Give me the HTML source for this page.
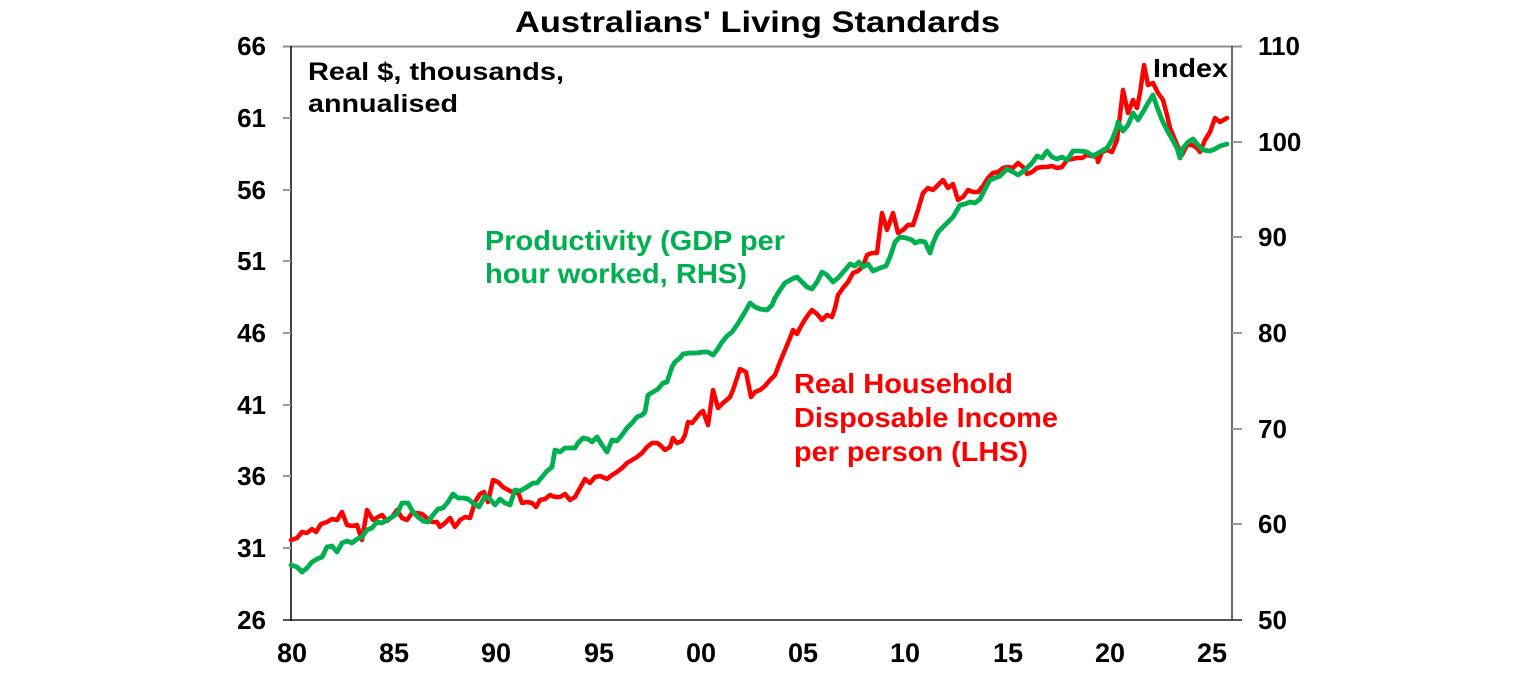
<!DOCTYPE html>
<html><head><meta charset="utf-8"><style>
html,body{margin:0;padding:0;background:#fff;}
svg{display:block;}
text{font-family:"Liberation Sans",Arial,sans-serif;font-weight:bold;}
</style></head><body>
<svg width="1536" height="680" viewBox="0 0 1536 680" xmlns="http://www.w3.org/2000/svg">
<rect width="1536" height="680" fill="#fff"/>
<text x="515" y="32" font-size="30" textLength="485" lengthAdjust="spacingAndGlyphs" fill="#000">Australians' Living Standards</text>

<!-- frame -->
<line x1="283" y1="46.5" x2="1242" y2="46.5" stroke="#8c8c8c" stroke-width="2"/>
<line x1="283" y1="620" x2="1242" y2="620" stroke="#555" stroke-width="2"/>
<line x1="291" y1="46" x2="291" y2="621" stroke="#111" stroke-width="1.6"/>
<line x1="1232" y1="46" x2="1232" y2="621" stroke="#444" stroke-width="1.6"/>
<g stroke="#999" stroke-width="2">
<line x1="283" y1="118" x2="291" y2="118"/><line x1="283" y1="190" x2="291" y2="190"/>
<line x1="283" y1="261" x2="291" y2="261"/><line x1="283" y1="333" x2="291" y2="333"/>
<line x1="283" y1="405" x2="291" y2="405"/><line x1="283" y1="476" x2="291" y2="476"/>
<line x1="283" y1="548" x2="291" y2="548"/>
<line x1="1232" y1="142" x2="1242" y2="142"/><line x1="1232" y1="237" x2="1242" y2="237"/>
<line x1="1232" y1="333" x2="1242" y2="333"/><line x1="1232" y1="429" x2="1242" y2="429"/>
<line x1="1232" y1="524" x2="1242" y2="524"/>
</g>

<!-- left labels -->
<g font-size="26" fill="#000" text-anchor="end">
<text x="266" y="55">66</text><text x="266" y="127">61</text><text x="266" y="199">56</text>
<text x="266" y="270">51</text><text x="266" y="342">46</text><text x="266" y="414">41</text>
<text x="266" y="485">36</text><text x="266" y="557">31</text><text x="266" y="629">26</text>
</g>
<!-- right labels -->
<g font-size="26" fill="#000">
<text x="1258" y="55">110</text><text x="1258" y="151">100</text><text x="1258" y="246">90</text>
<text x="1258" y="342">80</text><text x="1258" y="438">70</text><text x="1258" y="533">60</text>
<text x="1258" y="629">50</text>
</g>
<!-- x labels -->
<g font-size="27" fill="#000" text-anchor="middle">
<text x="292" y="662">80</text><text x="394" y="662">85</text><text x="496" y="662">90</text>
<text x="599" y="662">95</text><text x="701" y="662">00</text><text x="803" y="662">05</text>
<text x="905" y="662">10</text><text x="1008" y="662">15</text><text x="1110" y="662">20</text>
<text x="1212" y="662">25</text>
</g>

<text x="308" y="80" font-size="25" fill="#000" textLength="256" lengthAdjust="spacingAndGlyphs">Real $, thousands,</text>
<text x="308" y="112" font-size="25" fill="#000" textLength="150" lengthAdjust="spacingAndGlyphs">annualised</text>
<text x="1153" y="77" font-size="26" fill="#000" textLength="75" lengthAdjust="spacingAndGlyphs">Index</text>

<!-- red series -->
<polyline fill="none" stroke="#FF0000" stroke-width="4.5" stroke-linejoin="round" stroke-linecap="round" points="291,540 297,538 302,532 307,533 312,529 316,532 321,524 327,522 332,519 337,520 342,512 347,525 352,526 357,525 362,540 367,510 373,520 378,517 382,515 387,521 392,517 397,510 402,518 407,520 412,513 417,513 422,514 427,518 432,522 437,522 440,527 445,523 450,518 455,527 460,520 465,517 470,518 475,502 480,494 484,492 488,502 493,480 498,482 503,487 510,491 515,493 518,492 522,503 527,502 532,503 536,507 540,500 545,499 550,495 555,497 560,497 565,494 570,500 575,497 580,488 585,479 590,483 595,477 600,476 607,479 612,475 617,472 622,468 627,463 632,460 637,457 642,453 647,447 652,443 657,443 660,445 665,450 670,447 673,438 677,443 682,441 685,435 688,422 692,423 697,417 700,413 703,411 708,425 713,390 718,408 723,403 730,397 733,390 740,369 746,372 751,397 755,392 760,390 765,386 770,380 775,375 780,362 785,350 790,338 793,330 797,334 800,328 804,321 808,315 812,310 817,314 822,320 827,315 832,317 835,308 838,295 843,288 848,282 853,273 858,271 863,266 867,255 872,253 877,253 882,213 887,230 893,213 898,233 903,230 908,225 913,225 918,210 923,193 928,188 933,190 938,185 943,180 948,188 953,184 958,200 963,197 968,190 973,192 978,192 983,186 988,178 993,173 998,172 1003,168 1008,167 1013,168 1018,163 1023,167 1027,174 1032,172 1037,168 1042,167 1047,167 1052,166 1057,168 1062,167 1067,160 1072,159 1077,158 1082,158 1087,155 1092,156 1097,157 1098,162 1102,152 1107,150 1112,152 1117,140 1120,115 1123,90 1128,113 1133,100 1137,108 1140,93 1144,65 1148,85 1153,83 1158,93 1163,100 1167,115 1170,128 1173,135 1178,147 1182,155 1187,145 1192,145 1197,148 1200,152 1205,140 1210,132 1215,118 1220,122 1227,118"/>

<!-- green series -->
<polyline fill="none" stroke="#00B050" stroke-width="4.8" stroke-linejoin="round" stroke-linecap="round" points="291,565 297,567 302,572 307,568 312,562 317,559 322,557 327,547 332,546 337,552 342,543 347,541 352,543 357,539 362,537 367,530 372,528 377,522 382,523 387,520 392,517 397,514 402,503 408,503 413,512 418,517 423,521 428,522 433,515 438,509 443,508 448,502 453,494 458,498 463,498 468,499 473,503 479,507 485,496 490,499 495,505 500,499 505,503 510,505 515,490 520,491 527,487 533,483 537,483 542,477 547,471 552,467 555,450 560,452 565,448 570,448 575,448 578,443 583,438 588,439 592,442 597,437 602,445 607,452 612,440 617,441 622,435 627,428 632,423 637,417 642,415 645,412 648,395 653,392 658,389 663,383 667,382 672,367 675,362 680,358 683,354 690,353 697,353 703,352 708,352 713,355 717,350 722,342 727,336 732,332 737,325 742,317 745,312 750,303 755,307 760,309 767,310 772,305 775,298 780,290 785,283 792,279 797,277 802,282 807,287 812,289 817,282 822,272 827,275 833,282 838,278 845,270 850,264 855,266 859,262 863,267 868,264 873,271 880,268 886,266 890,257 895,242 900,237 906,238 912,240 915,243 920,241 925,242 930,253 933,243 938,232 943,227 948,222 953,217 960,205 965,204 970,202 975,203 980,199 985,189 990,180 995,178 1000,176 1007,169 1013,172 1018,175 1025,170 1032,163 1037,156 1042,158 1047,151 1052,157 1057,159 1062,157 1067,160 1073,151 1080,151 1087,152 1093,156 1100,152 1107,148 1112,140 1117,127 1118,122 1123,131 1128,125 1133,113 1138,120 1143,112 1148,103 1153,95 1157,107 1162,120 1167,130 1172,139 1177,148 1180,158 1183,148 1188,142 1193,139 1198,145 1203,150 1210,151 1215,149 1220,146 1227,144"/>

<!-- series labels -->
<g font-size="28" fill="#00B050">
<text x="485" y="250" textLength="300" lengthAdjust="spacingAndGlyphs">Productivity (GDP per</text>
<text x="485" y="283" textLength="262" lengthAdjust="spacingAndGlyphs">hour worked, RHS)</text>
</g>
<g font-size="28" fill="#FF0000">
<text x="794" y="393" textLength="219" lengthAdjust="spacingAndGlyphs">Real Household</text>
<text x="794" y="427" textLength="264" lengthAdjust="spacingAndGlyphs">Disposable Income</text>
<text x="794" y="461" textLength="234" lengthAdjust="spacingAndGlyphs">per person (LHS)</text>
</g>
</svg>
</body></html>
